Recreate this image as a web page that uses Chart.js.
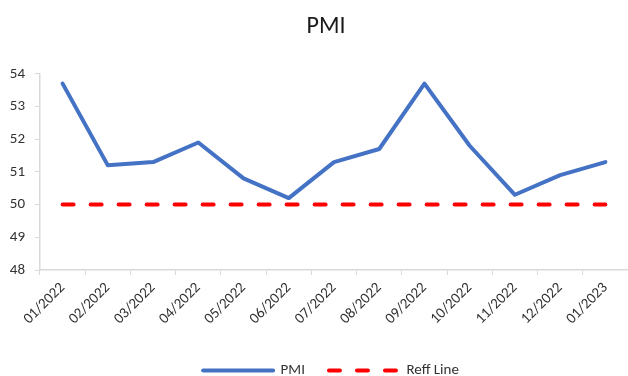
<!DOCTYPE html>
<html>
<head>
<meta charset="utf-8">
<script src="https://cdn.jsdelivr.net/npm/chart.js@4/dist/chart.umd.min.js"></script>
<style>
  html, body { margin: 0; padding: 0; background: #ffffff; }
  #wrap { width: 628px; height: 376px; position: relative; }
</style>
</head>
<body>
<div id="wrap"><canvas id="chart"></canvas></div>
<script>
// Monthly PMI readings, Jan 2022 – Jan 2023
const months = ['01/2022', '02/2022', '03/2022', '04/2022', '05/2022', '06/2022', '07/2022',
                '08/2022', '09/2022', '10/2022', '11/2022', '12/2022', '01/2023'];
const pmiValues = [53.7, 51.2, 51.3, 51.9, 50.8, 50.2, 51.3, 51.7, 53.7, 51.8, 50.3, 50.9, 51.3];
// Expansion / contraction threshold
const refValues = [50, 50, 50, 50, 50, 50, 50, 50, 50, 50, 50, 50, 50];
const yTicks = [48, 49, 50, 51, 52, 53, 54];

const FONT = 'Carlito, Lato, "Liberation Sans", sans-serif';
const axisGrey = '#d9d9d9';
const textColor = '#333333';

// Nudge the title and legend blocks to the right of the canvas centre line
const shiftBlocks = {
  id: 'shiftBlocks',
  afterLayout(chart) {
    if (chart.titleBlock) { chart.titleBlock.left += 12; chart.titleBlock.right += 12; }
    if (chart.legend) { chart.legend.left += 17; chart.legend.right += 17; }
  }
};

new Chart(document.getElementById('chart'), {
  type: 'line',
  data: {
    labels: months,
    datasets: [
      {
        label: 'PMI',
        data: pmiValues,
        borderColor: '#4472C4',
        backgroundColor: '#4472C4',
        borderWidth: 4,
        pointRadius: 0,
        tension: 0,
        borderCapStyle: 'round',
        borderJoinStyle: 'round'
      },
      {
        label: 'Reff Line',
        data: refValues,
        borderColor: '#FF0000',
        backgroundColor: '#FF0000',
        borderWidth: 4,
        borderDash: [11, 17],
        borderCapStyle: 'round',
        pointRadius: 0,
        tension: 0
      }
    ]
  },
  plugins: [shiftBlocks],
  options: {
    responsive: true,
    maintainAspectRatio: false,
    animation: false,
    layout: { padding: { left: 0, right: 0, top: 0, bottom: -12 } },
    plugins: {
      title: {
        display: true,
        text: 'PMI',
        color: '#1a1a1a',
        font: { family: FONT, size: 24, weight: 'normal' },
        padding: { top: 13, bottom: 32 }
      },
      legend: {
        display: true,
        position: 'bottom',
        labels: {
          usePointStyle: true,
          pointStyle: 'line',
          pointStyleWidth: 70,
          boxHeight: 4,
          padding: 24,
          color: textColor,
          font: { family: FONT, size: 15 },
          // carry each dataset's dash pattern and cap into its legend sample
          generateLabels: (chart) => {
            const items = Chart.defaults.plugins.legend.labels.generateLabels(chart);
            items.forEach((item) => {
              const ds = chart.data.datasets[item.datasetIndex];
              item.lineDash = ds.borderDash || [];
              item.lineCap = 'round';
              item.lineWidth = 4;
              item.strokeStyle = ds.borderColor;
            });
            return items;
          }
        }
      },
      tooltip: { enabled: false }
    },
    scales: {
      x: {
        offset: true,
        afterFit: (scale) => { scale.height = 69; },
        grid: {
          offset: true,
          drawOnChartArea: false,
          drawTicks: true,
          tickLength: 5,
          color: axisGrey
        },
        border: { color: axisGrey, width: 1.5 },
        ticks: {
          color: textColor,
          font: { family: FONT, size: 15 },
          minRotation: 45,
          maxRotation: 45,
          autoSkip: false,
          padding: 4
        }
      },
      y: {
        min: yTicks[0],
        max: yTicks[yTicks.length - 1],
        afterBuildTicks: (scale) => { scale.ticks = yTicks.map(v => ({ value: v })); },
        afterFit: (scale) => { scale.width = 40; },
        grid: {
          drawOnChartArea: false,
          drawTicks: true,
          tickLength: 5,
          color: axisGrey
        },
        border: { color: axisGrey, width: 1.5 },
        ticks: {
          color: textColor,
          font: { family: FONT, size: 15 },
          padding: 10
        }
      }
    }
  }
});
</script>
</body>
</html>
